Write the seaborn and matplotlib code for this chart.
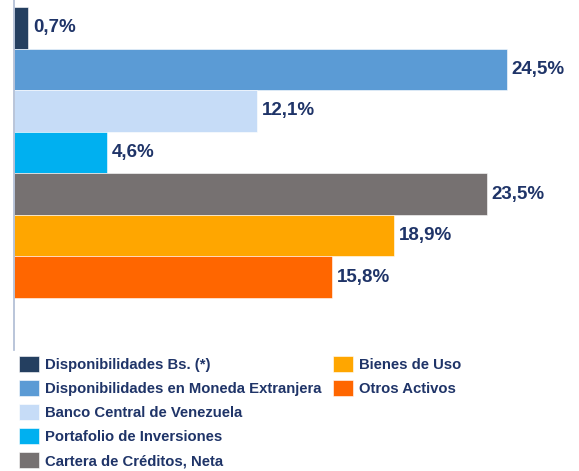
import matplotlib
matplotlib.use("Agg")
import matplotlib.pyplot as plt
import matplotlib.patches as mpatches
import seaborn as sns
import pandas as pd

categorias = ['Disponibilidades Bs. (*)',
              'Disponibilidades en Moneda Extranjera',
              'Banco Central de Venezuela',
              'Portafolio de Inversiones',
              'Cartera de Créditos, Neta',
              'Bienes de Uso',
              'Otros Activos']
valores = [0.7, 24.5, 12.1, 4.6, 23.5, 18.9, 15.8]
colores = ['#243F60', '#5B9BD5', '#C6DCF7', '#00B0F0', '#767171', '#FFA600', '#FF6600']

texto_color = '#1F3468'

sns.set_style("white")
plt.rcParams['font.family'] = ['Liberation Sans', 'DejaVu Sans']

df = pd.DataFrame({'categoria': categorias, 'valor': valores})

fig = plt.figure(figsize=(5.79, 4.71), dpi=100)
ax = fig.add_axes([14 / 579, 1 - 350 / 471, 565 / 579, 350 / 471])

sns.barplot(data=df, x='valor', y='categoria', hue='categoria', palette=colores,
            orient='h', width=1.0, legend=False, ax=ax, saturation=1,
            edgecolor='white', linewidth=0.4)

# etiquetas de valor con coma decimal
for cont, v in zip(ax.containers, valores):
    ax.bar_label(cont, labels=[f'{v:.1f}%'.replace('.', ',')], padding=3.5,
                 fontsize=13.5, fontweight='bold', color=texto_color)

ax.set_xlim(0, 28.08)
ax.set_ylim(7.75, -0.67)
ax.set_xlabel('')
ax.set_ylabel('')
ax.set_xticks([])
ax.set_yticks([])
for s in ['top', 'right', 'bottom']:
    ax.spines[s].set_visible(False)
ax.spines['left'].set_color('#AEBBD3')
ax.spines['left'].set_linewidth(1.2)

# leyenda en dos columnas (5 + 2)
handles = [mpatches.Patch(facecolor=c, edgecolor='white', linewidth=0.4) for c in colores]
opts = dict(loc='upper left', frameon=False, borderpad=0, borderaxespad=0,
            handlelength=1.35, handleheight=1.3, handletextpad=0.4,
            labelspacing=0.53, prop={'size': 10.7, 'weight': 'bold'},
            labelcolor=texto_color)
fig.legend(handles[:5], categorias[:5], bbox_to_anchor=(19 / 579, 1 - 356 / 471), **opts)
fig.legend(handles[5:], categorias[5:], bbox_to_anchor=(333 / 579, 1 - 356 / 471), **opts)

fig.savefig('out.png', dpi=100)
